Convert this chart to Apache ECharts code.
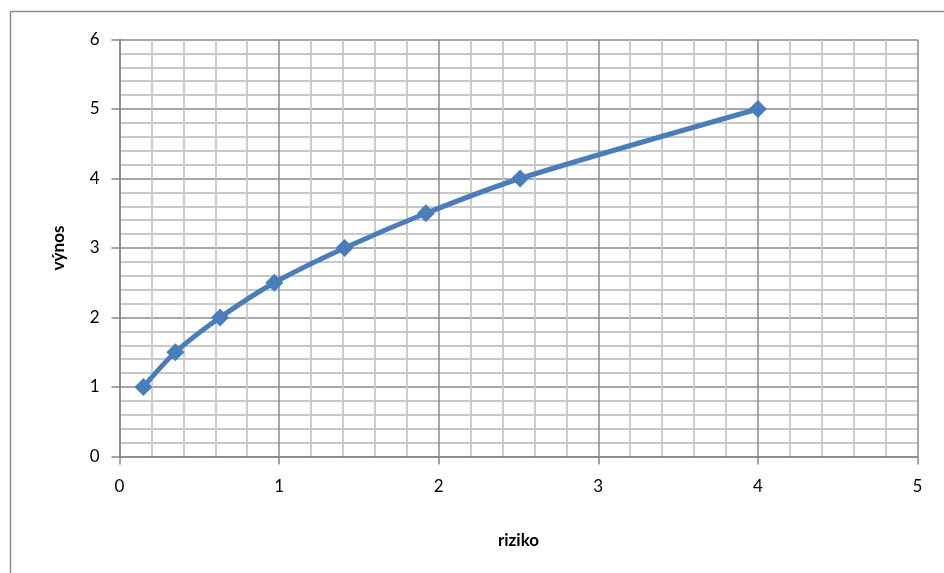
<!DOCTYPE html>
<html>
<head>
<meta charset="utf-8">
<script src="https://cdn.jsdelivr.net/npm/echarts@6/dist/echarts.min.js"></script>
<style>
	html, body { margin: 0; padding: 0; background: #fff; }
	#chart { width: 944px; height: 573px; }
</style>
</head>
<body>
<div id="chart"></div>
<script>
	// riziko (x) a výnos (y)
	const riziko = [0.15, 0.35, 0.63, 0.97, 1.41, 1.92, 2.51, 4.0];
	const vynos = [1, 1.5, 2, 2.5, 3, 3.5, 4, 5];

	const points = riziko.map((r, i) => [r, vynos[i]]);
	const labelFont = 'Lato, "Open Sans", sans-serif';

	const chart = echarts.init(document.getElementById('chart'));
	chart.setOption({
		animation: false,
		graphic: [{
			type: 'rect',
			shape: { x: 10.5, y: 11.5, width: 1000, height: 700 },
			style: { fill: 'none', stroke: '#8c8c8c', lineWidth: 1.5 },
			silent: true
		}],
		grid: {
			left: 119.5,
			right: 26.5,
			top: 39.5,
			bottom: 116.5
		},
		xAxis: {
			type: 'value',
			min: 0,
			max: 5,
			interval: 1,
			name: 'riziko',
			nameLocation: 'middle',
			nameGap: 76,
			nameTextStyle: { fontFamily: labelFont, fontWeight: 'bold', fontSize: 17, color: '#000' },
			axisLine: { show: true, lineStyle: { color: '#868686', width: 1.5 } },
			axisTick: { show: true, length: 8, lineStyle: { color: '#868686', width: 1.5 } },
			axisLabel: { fontFamily: labelFont, fontSize: 17, color: '#000', margin: 22 },
			splitLine: { show: true, lineStyle: { color: '#8a8a8a', width: 1.5 } },
			minorTick: { show: false, splitNumber: 5 },
			minorSplitLine: { show: true, lineStyle: { color: '#c8c8c8', width: 1.8 } }
		},
		yAxis: {
			type: 'value',
			min: 0,
			max: 6,
			interval: 1,
			name: 'výnos',
			nameLocation: 'middle',
			nameGap: 52,
			nameRotate: 90,
			nameTextStyle: { fontFamily: labelFont, fontWeight: 'bold', fontSize: 17, color: '#000' },
			axisLine: { show: true, lineStyle: { color: '#868686', width: 1.5 } },
			axisTick: { show: true, length: 8, lineStyle: { color: '#868686', width: 1.5 } },
			axisLabel: { fontFamily: labelFont, fontSize: 17, color: '#000', margin: 20 },
			splitLine: { show: true, lineStyle: { color: '#8a8a8a', width: 1.5 } },
			minorTick: { show: false, splitNumber: 5 },
			minorSplitLine: { show: true, lineStyle: { color: '#c8c8c8', width: 1.8 } }
		},
		series: [{
			type: 'line',
			data: points,
			smooth: 0.3,
			symbol: 'diamond',
			symbolSize: 18,
			itemStyle: { color: '#4a7ebb' },
			lineStyle: { color: '#4a7ebb', width: 5 }
		}]
	});
</script>
</body>
</html>
